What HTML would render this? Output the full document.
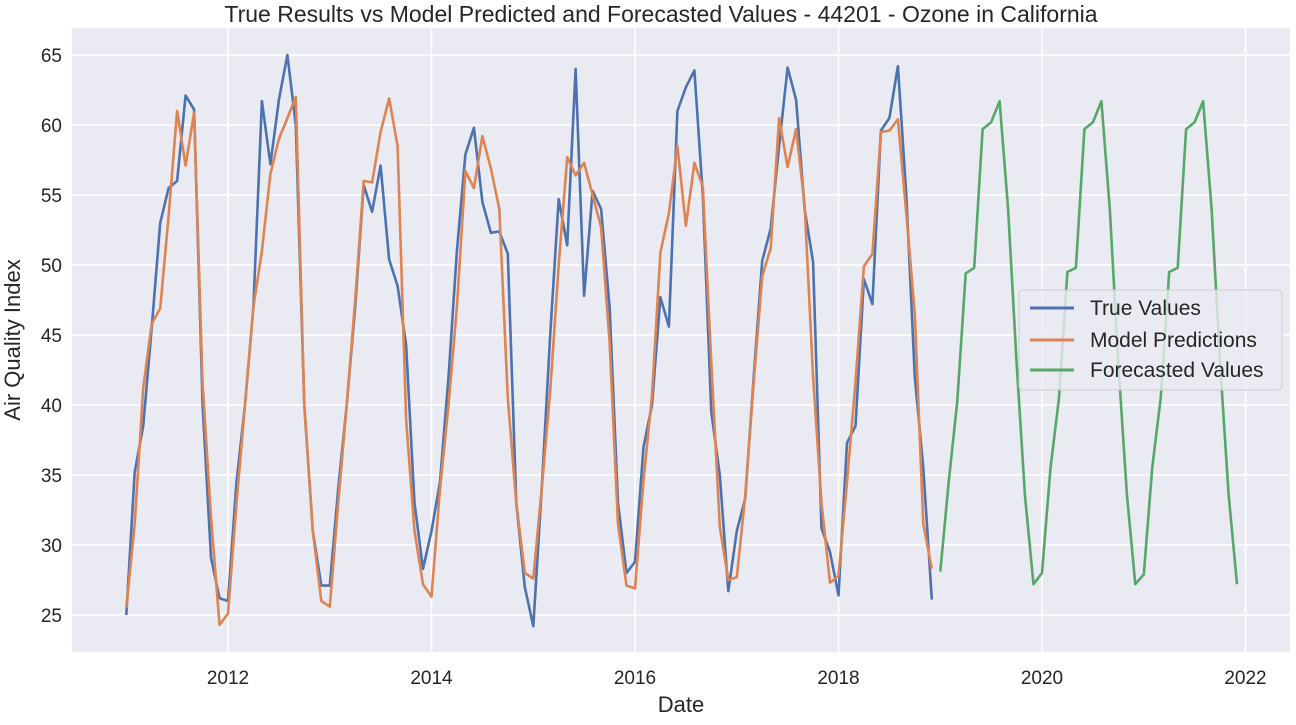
<!DOCTYPE html>
<html><head><meta charset="utf-8"><style>
body{margin:0;background:#fff;font-family:"Liberation Sans",Arial,sans-serif}
svg text{font-family:"Liberation Sans",Arial,sans-serif;fill:#262626}
</style></head><body>
<svg id="chart" width="1296" height="720" xmlns="http://www.w3.org/2000/svg">
<rect x="72" y="28" width="1218" height="624" fill="#eaeaf2"/>
<g id="grid"></g>
<g id="series"></g>
<text x="661" y="22" text-anchor="middle" font-size="23">True Results vs Model Predicted and Forecasted Values - 44201 - Ozone in California</text>
<text x="681" y="712" text-anchor="middle" font-size="22">Date</text>
<text x="20" y="340" text-anchor="middle" font-size="22" transform="rotate(-90 20 340)">Air Quality Index</text>
<g>
<rect x="1019" y="290" width="263" height="100" rx="4" fill="#eaeaf2" fill-opacity="0.8" stroke="#ccc"/>
<line x1="1030" y1="308" x2="1074" y2="308" stroke="#4c72b0" stroke-width="3"/>
<text x="1090" y="315" font-size="21">True Values</text>
<line x1="1030" y1="340" x2="1074" y2="340" stroke="#dd8452" stroke-width="3"/>
<text x="1090" y="347" font-size="21">Model Predictions</text>
<line x1="1030" y1="370" x2="1074" y2="370" stroke="#55a868" stroke-width="3"/>
<text x="1090" y="377" font-size="21">Forecasted Values</text>
</g>
</svg>
<script>
const yTicks=[25,30,35,40,45,50,55,60,65];
const xTicks=[2012,2014,2016,2018,2020,2022];
const trueValues=[25.0,35.2,38.5,45.5,53.0,55.5,56.0,62.1,61.1,40,29.1,26.2,
26.0,34.5,40,47,61.7,57.2,61.8,65.0,60,40,31,27.1,
27.1,34,40,47,55.7,53.8,57.1,50.4,48.5,44.3,33,28.3,
31,34.5,42,51,57.9,59.8,54.5,52.3,52.4,50.8,33,27,
24.2,34,45,54.7,51.4,64.0,47.8,55.3,54,47,33,28,
28.8,37,40,47.7,45.6,61,62.7,63.9,55,39.5,35,26.7,
31,33.3,42,50.3,52.6,58.5,64.1,61.8,54,50.2,31.2,29.5,
26.4,37.3,38.5,49,47.2,59.6,60.5,64.2,55,42,35.5,26.1];
const predValues=[25.5,31.5,41.2,45.8,46.9,53.5,61.0,57.1,60.9,41.5,32,24.3,
25.1,33,40,47,51,56.5,59,60.5,62.0,40,31,26.0,
25.6,33,40,47.5,56.0,55.9,59.5,61.9,58.5,39,31,27.2,
26.3,34,40,47,56.7,55.5,59.2,56.9,54,40.5,33,28,
27.6,34,41,50,57.7,56.4,57.3,55,52.7,44.5,31.5,27.1,
26.9,34.6,40.7,50.9,53.7,58.5,52.8,57.3,55.6,43,31.3,27.5,
27.7,33.5,41.6,49.2,51.2,60.5,57,59.7,54.3,42,33,27.3,
27.8,34.5,41.6,49.9,50.8,59.5,59.6,60.4,53.7,46.5,31.5,28.3];
const forecastValues=[28.1,34.5,40.2,49.4,49.8,59.7,60.2,61.7,54,43,33.5,27.2,
28,35.5,40.5,49.5,49.8,59.7,60.2,61.7,54,43,33.7,27.2,
27.9,35.5,40.5,49.5,49.8,59.7,60.2,61.7,54,43,33.7,27.2];
const trueStart=2011, forecastStart=2019;
const NS="http://www.w3.org/2000/svg";
function xs(t){return 228+(t-2012)*101.75;}
function ys(v){return 615-(v-25)*14;}
const grid=document.getElementById('grid'), ser=document.getElementById('series'), svg=document.getElementById('chart');
yTicks.forEach(v=>{
 const l=document.createElementNS(NS,'line');
 l.setAttribute('x1',72);l.setAttribute('x2',1290);l.setAttribute('y1',ys(v));l.setAttribute('y2',ys(v));
 l.setAttribute('stroke','#fff');l.setAttribute('stroke-width','1.6');
 
 
 grid.appendChild(l);
 const t=document.createElementNS(NS,'text');
 t.setAttribute('x',62);t.setAttribute('y',ys(v)+7);t.setAttribute('text-anchor','end');t.setAttribute('font-size','19');
 t.textContent=v;
 
 
 svg.appendChild(t);
});
xTicks.forEach(v=>{
 const l=document.createElementNS(NS,'line');
 l.setAttribute('y1',28);l.setAttribute('y2',652);l.setAttribute('x1',xs(v));l.setAttribute('x2',xs(v));
 l.setAttribute('stroke','#fff');l.setAttribute('stroke-width','1.6');
 
 
 grid.appendChild(l);
 const t=document.createElementNS(NS,'text');
 t.setAttribute('x',xs(v));t.setAttribute('y',684);t.setAttribute('text-anchor','middle');t.setAttribute('font-size','19');
 t.textContent=v;
 
 
 svg.appendChild(t);
});
function line(vals,start,color,name){
 const p=document.createElementNS(NS,'polyline');
 p.setAttribute('points',vals.map((v,i)=>xs(start+i/12).toFixed(1)+','+ys(v).toFixed(1)).join(' '));
 p.setAttribute('fill','none');p.setAttribute('stroke',color);p.setAttribute('stroke-width','2.6');p.setAttribute('stroke-linejoin','round');
 
 
 ser.appendChild(p);
}
line(trueValues,trueStart,'#4c72b0','true-values-line');
line(predValues,trueStart,'#dd8452','model-predictions-line');
line(forecastValues,forecastStart,'#55a868','forecasted-values-line');
</script>
</body></html>
